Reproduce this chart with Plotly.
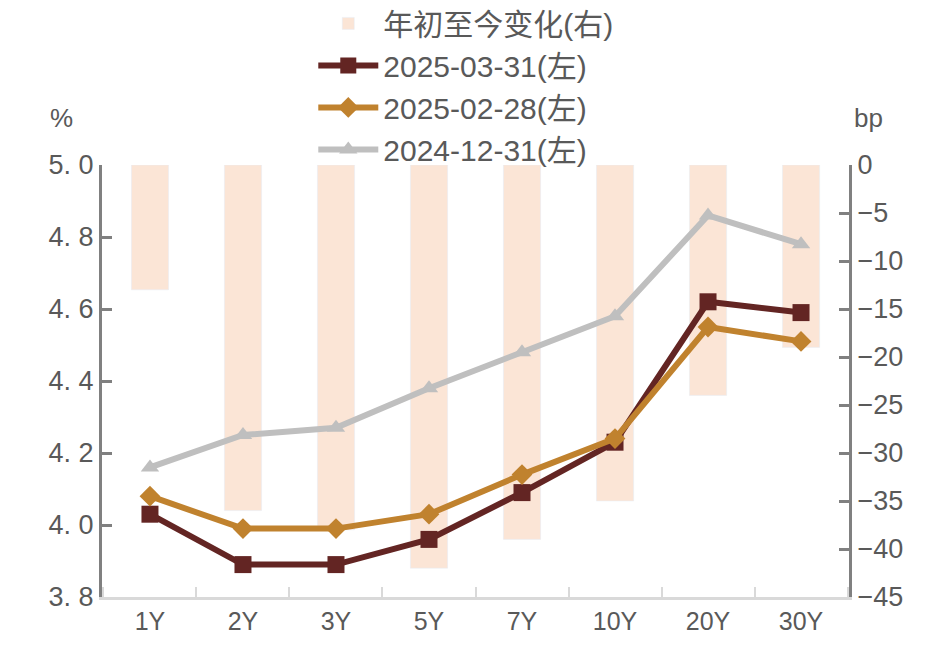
import plotly.graph_objects as go

# tenors and yields (%), change since start of year (bp)
tenors = ['1Y', '2Y', '3Y', '5Y', '7Y', '10Y', '20Y', '30Y']
y_20250331 = [4.03, 3.89, 3.89, 3.96, 4.09, 4.23, 4.62, 4.59]
y_20250228 = [4.08, 3.99, 3.99, 4.03, 4.14, 4.24, 4.55, 4.51]
y_20241231 = [4.16, 4.25, 4.27, 4.38, 4.48, 4.58, 4.86, 4.78]
ytd_change = [-13, -36, -38, -42, -39, -35, -24, -19]

left_ticks = [3.8, 4.0, 4.2, 4.4, 4.6, 4.8, 5.0]
left_labels = ['3. 8', '4. 0', '4. 2', '4. 4', '4. 6', '4. 8', '5. 0']
right_ticks = [0, -5, -10, -15, -20, -25, -30, -35, -40, -45]

FONT = 'Liberation Sans, Arial, Noto Sans CJK SC'
TXT = '#595959'

fig = go.Figure()
# bars on primary axis (drawn underneath), lines on overlaying axis
fig.add_trace(go.Bar(x=tenors, y=ytd_change, name='年初至今变化(右)', marker_color='#FBE5D6',
                     width=0.4, yaxis='y'))
fig.add_trace(go.Scatter(x=tenors, y=y_20250331, name='2025-03-31(左)', mode='lines+markers',
                         line=dict(color='#632523', width=6),
                         marker=dict(symbol='square', size=17, color='#632523'), yaxis='y2'))
fig.add_trace(go.Scatter(x=tenors, y=y_20250228, name='2025-02-28(左)', mode='lines+markers',
                         line=dict(color='#C0822E', width=6),
                         marker=dict(symbol='diamond', size=16, color='#C0822E'), yaxis='y2'))
fig.add_trace(go.Scatter(x=tenors, y=y_20241231, name='2024-12-31(左)', mode='lines+markers',
                         line=dict(color='#BFBFBF', width=6),
                         marker=dict(symbol='triangle-up', size=16, color='#BFBFBF'), yaxis='y2'))

fig.update_layout(
    width=943, height=659, plot_bgcolor='white', paper_bgcolor='white',
    margin=dict(l=94, r=102, t=157, b=70, autoexpand=False),
    font=dict(family=FONT, color=TXT, size=26),
    showlegend=True,
    legend=dict(x=0.487, xanchor='center', y=1.388, yanchor='top', yref='paper',
                font=dict(size=30, color=TXT), bgcolor='rgba(0,0,0,0)',
                traceorder='normal', itemwidth=60, tracegroupgap=0),
    xaxis=dict(showline=True, linecolor='#D9D9D9', linewidth=3, ticks='inside',
               tickson='boundaries', ticklen=10, tickwidth=2, tickcolor='#D9D9D9',
               tickfont=dict(size=25, color=TXT), showgrid=False),
    yaxis=dict(side='right', range=[-45, 0], tickvals=right_ticks, showgrid=False,
               zeroline=False, showline=True, linecolor='#808080', linewidth=3,
               ticks='inside', ticklen=10, tickwidth=3, tickcolor='#808080',
               tickfont=dict(size=27, color=TXT)),
    yaxis2=dict(side='left', overlaying='y', range=[3.8, 5.0], tickvals=left_ticks,
                ticktext=left_labels, showgrid=False, zeroline=False, showline=True,
                linecolor='#808080', linewidth=3, ticks='inside', ticklen=10, tickwidth=3,
                tickcolor='#808080', tickfont=dict(size=27, color=TXT)),
    annotations=[
        dict(text='%', xref='paper', yref='paper', x=-0.054, y=1.109, showarrow=False,
             font=dict(size=26, color=TXT), xanchor='center', yanchor='middle'),
        dict(text='bp', xref='paper', yref='paper', x=1.004, y=1.109, showarrow=False,
             font=dict(size=26, color=TXT), xanchor='left', yanchor='middle'),
    ],
)

fig.write_html('out.html')
